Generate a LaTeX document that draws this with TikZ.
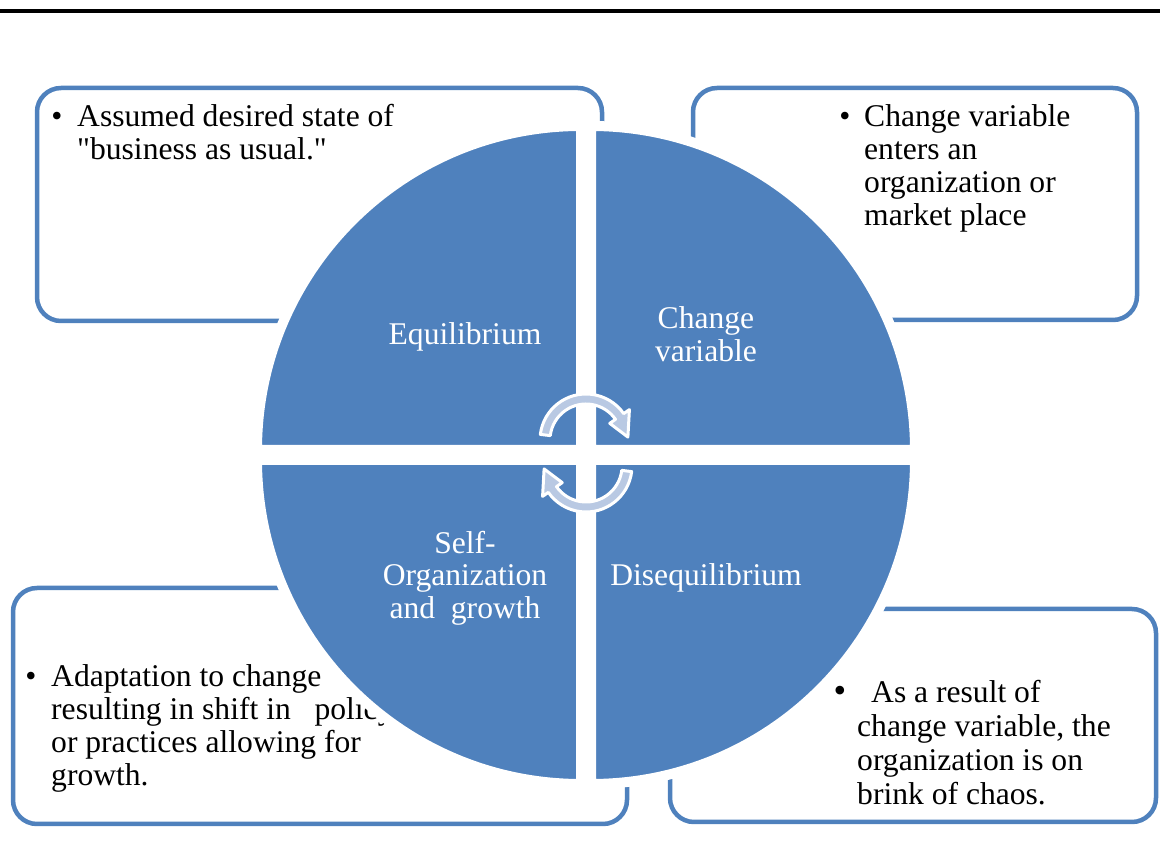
\documentclass[tikz,border=0pt]{standalone}
\usepackage{fontspec}
\setmainfont{Liberation Serif}[Ligatures=TeXOff]
\usetikzlibrary{calc}
\definecolor{qblue}{RGB}{79,129,189}
\definecolor{arrblue}{RGB}{185,201,227}
\newcommand{\ctrline}[1]{\hbox to 0pt{\hss #1\hss}}
\begin{document}
\begin{tikzpicture}[x=1pt,y=1pt,
  box/.style={draw=qblue, line width=4.5pt, fill=white, rounded corners=24pt, inner sep=0pt},
  quad/.style={fill=qblue, draw=white, line width=10pt},
  txt/.style={anchor=base west, inner sep=0pt, font=\fontsize{31.6}{33}\selectfont},
  txtb/.style={anchor=base west, inner sep=0pt, font=\fontsize{31.6}{34}\selectfont},
  lbl/.style={anchor=base, inner sep=0pt, text=white, font=\fontsize{31.6}{32.5}\selectfont},
  bul/.style={anchor=base, inner sep=0pt, font=\fontsize{31.6}{33}\selectfont},
  cyc/.style={fill=arrblue, draw=white, line width=3pt, line join=round}]
\useasboundingbox (0,0) rectangle (1160,857);
\coordinate (rl) at (0,846);
\coordinate (rr) at (1160,846);
\draw[line width=4pt] (rl) -- (rr);
% boxes
\node[box, minimum width=565pt, minimum height=233pt] (tlbox) at (319.5,652.5) {};
\node[box, minimum width=444pt, minimum height=232pt] (trbox) at (915,653) {};
\node[box, minimum width=614pt, minimum height=236pt] (blbox) at (320,151) {};
\node[box, minimum width=486pt, minimum height=213pt] (brbox) at (913,141.5) {};
% box texts
\node[bul] (b1) at (57,730) {•};
\node[txt] (t1) at (77,730) {\vtop{\hbox{Assumed desired state of}\hbox{"business as usual."}}};
\node[bul] (b2) at (845,730) {•};
\node[txt] (t2) at (864,730) {\vtop{\hbox{Change variable}\hbox{enters an}\hbox{organization or}\hbox{market place}}};
\node[bul] (b3) at (31,170) {•};
\node[txt] (t3) at (51,170) {\vtop{\hbox{Adaptation to change}\hbox{resulting in shift in\ \ \ policy}\hbox{or practices allowing for}\hbox{growth.}}};
\node[bul, font=\fontsize{36}{34}\selectfont] (b4) at (840,154) {•};
\node[txtb] (t4) at (857,154) {\vtop{\hbox{\hspace{14pt}As a result of}\hbox{change variable, the}\hbox{organization is on}\hbox{brink of chaos.}}};
% quadrants
\path[quad] (581,407) -- (257,407) arc[start angle=180,end angle=90,radius=324] -- cycle;
\path[quad] (591,407) -- (591,731) arc[start angle=90,end angle=0,radius=324] -- cycle;
\path[quad] (581,397) -- (581,73) arc[start angle=270,end angle=180,radius=324] -- cycle;
\path[quad] (591,397) -- (915,397) arc[start angle=0,end angle=-90,radius=324] -- cycle;
% labels
\node[lbl] (eq) at (465,512) {Equilibrium};
\node[lbl] (cv) at (706,528) {\vtop{\ctrline{Change}\ctrline{variable}}};
\node[lbl] (so) at (465,303.5) {\vtop{\ctrline{Self-}\ctrline{Organization}\ctrline{and\ \ growth}}};
\node[lbl] (de) at (706,271.5) {Disequilibrium};
% cycle arrows
\coordinate (c1) at (586,417);
\coordinate (c2) at (586,391);
\path[cyc] ($(c1)+(173:46)$) arc[start angle=173,end angle=35,radius=46] -- ($(c1)+(35:53)$) -- ($(c1)+(4:42)$) -- ($(c1)+(35:29)$) -- ($(c1)+(35:36)$) arc[start angle=35,end angle=173,radius=36] -- cycle;
\path[cyc] ($(c2)+(-7:46)$) arc[start angle=-7,end angle=-145,radius=46] -- ($(c2)+(-145:53)$) -- ($(c2)+(-176:42)$) -- ($(c2)+(-145:29)$) -- ($(c2)+(-145:36)$) arc[start angle=-145,end angle=-7,radius=36] -- cycle;
\end{tikzpicture}
\end{document}
